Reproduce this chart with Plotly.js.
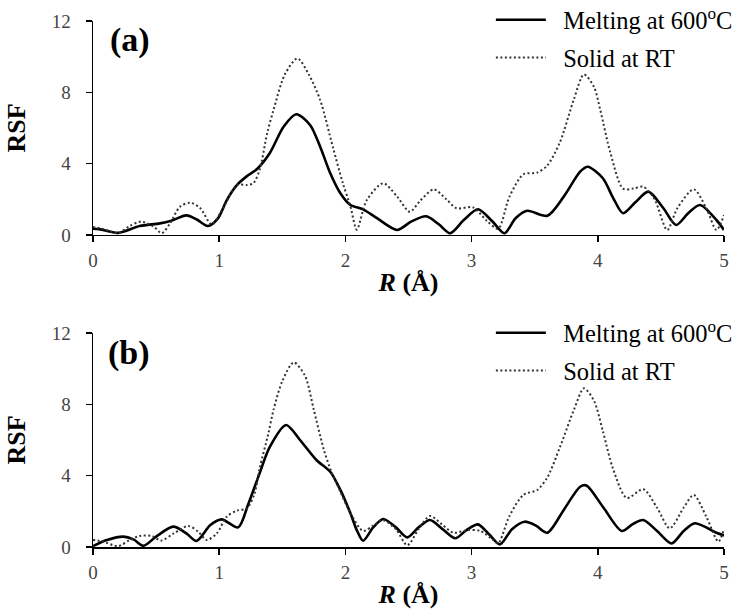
<!DOCTYPE html>
<html>
<head>
<meta charset="utf-8">
<script src="https://cdn.plot.ly/plotly-3.0.1.min.js"></script>
<style>html,body{margin:0;padding:0;background:#fff;}#chart{width:737px;height:610px;}</style>
</head>
<body>
<div id="chart"></div>
<script>
// Panel (a)
const meltA_x = [0, 0.05, 0.2, 0.37, 0.53, 0.62, 0.74, 0.82, 0.91, 0.99, 1.06, 1.14, 1.22, 1.30, 1.40, 1.51, 1.61, 1.72, 1.80, 1.88, 1.96, 2.04, 2.14, 2.25, 2.41, 2.52, 2.64, 2.74, 2.83, 2.94, 3.05, 3.16, 3.26, 3.35, 3.44, 3.60, 3.73, 3.86, 3.92, 4.04, 4.12, 4.20, 4.30, 4.40, 4.52, 4.62, 4.72, 4.81, 4.94, 5.0];
const meltA_y = [0.35, 0.33, 0.12, 0.5, 0.65, 0.8, 1.1, 0.88, 0.5, 0.93, 1.96, 2.8, 3.3, 3.7, 4.58, 6.07, 6.77, 6.17, 4.95, 3.46, 2.34, 1.68, 1.44, 0.94, 0.28, 0.75, 1.05, 0.6, 0.1, 0.85, 1.44, 0.8, 0.1, 0.95, 1.36, 1.08, 2.15, 3.55, 3.83, 3.18, 2.1, 1.22, 1.85, 2.43, 1.5, 0.56, 1.25, 1.68, 0.84, 0.28];
const solidA_x = [0, 0.07, 0.14, 0.2, 0.29, 0.38, 0.48, 0.545, 0.61, 0.69, 0.77, 0.85, 0.94, 1.03, 1.14, 1.22, 1.27, 1.32, 1.38, 1.43, 1.52, 1.62, 1.71, 1.80, 1.90, 1.98, 2.04, 2.09, 2.17, 2.30, 2.41, 2.51, 2.59, 2.70, 2.80, 2.88, 3.01, 3.12, 3.21, 3.30, 3.41, 3.52, 3.60, 3.70, 3.81, 3.89, 3.97, 4.02, 4.10, 4.20, 4.28, 4.36, 4.45, 4.55, 4.63, 4.76, 4.86, 4.94, 5.0];
const solidA_y = [0.45, 0.35, 0.2, 0.1, 0.5, 0.75, 0.47, 0.1, 0.65, 1.59, 1.81, 1.5, 0.6, 1.5, 2.8, 2.8, 2.9, 3.64, 5.7, 7.0, 9.0, 9.9, 9.0, 7.57, 4.95, 2.9, 1.6, 0.3, 1.96, 2.9, 2.15, 1.3, 1.9, 2.56, 2.0, 1.5, 1.55, 0.8, 0.35, 2.15, 3.4, 3.5, 3.9, 5.2, 7.6, 9.0, 8.3, 7.0, 4.6, 2.6, 2.6, 2.71, 2.0, 0.28, 1.5, 2.56, 1.5, 0.28, 1.12];
// Panel (b)
const meltB_x = [0, 0.11, 0.24, 0.32, 0.40, 0.50, 0.636, 0.74, 0.82, 0.93, 1.02, 1.15, 1.23, 1.32, 1.40, 1.53, 1.64, 1.77, 1.88, 1.96, 2.04, 2.09, 2.14, 2.22, 2.30, 2.40, 2.49, 2.58, 2.67, 2.77, 2.87, 2.96, 3.05, 3.14, 3.225, 3.32, 3.42, 3.51, 3.60, 3.73, 3.86, 3.91, 4.04, 4.19, 4.28, 4.36, 4.47, 4.585, 4.68, 4.77, 4.94, 5.0];
const meltB_y = [0.05, 0.39, 0.58, 0.43, 0.07, 0.58, 1.14, 0.76, 0.34, 1.23, 1.55, 1.1, 2.4, 4.13, 5.6, 6.84, 6.0, 4.88, 4.22, 3.2, 1.89, 0.95, 0.35, 1.1, 1.57, 1.1, 0.54, 1.1, 1.51, 1.0, 0.49, 0.95, 1.27, 0.7, 0.15, 1.0, 1.42, 1.2, 0.8, 2.08, 3.38, 3.45, 2.26, 0.9, 1.3, 1.51, 0.9, 0.2, 0.9, 1.33, 0.8, 0.65];
const solidB_x = [0, 0.08, 0.2, 0.29, 0.37, 0.465, 0.54, 0.64, 0.755, 0.835, 0.90, 0.98, 1.06, 1.14, 1.22, 1.28, 1.32, 1.39, 1.43, 1.50, 1.59, 1.68, 1.75, 1.83, 1.89, 1.96, 2.04, 2.14, 2.22, 2.30, 2.40, 2.49, 2.58, 2.67, 2.76, 2.855, 2.97, 3.07, 3.17, 3.21, 3.30, 3.41, 3.52, 3.60, 3.70, 3.81, 3.89, 3.97, 4.04, 4.12, 4.23, 4.36, 4.47, 4.57, 4.68, 4.76, 4.86, 4.955, 5.0];
const solidB_y = [0.4, 0.3, 0.05, 0.39, 0.62, 0.62, 0.36, 0.76, 1.18, 0.85, 0.39, 0.76, 1.7, 2.04, 2.17, 3.0, 4.41, 6.38, 7.68, 9.3, 10.35, 9.6, 7.68, 5.44, 4.2, 3.1, 1.9, 0.9, 1.2, 1.5, 1.0, 0.1, 1.0, 1.74, 1.3, 0.8, 0.95, 0.9, 0.4, 0.2, 1.74, 2.92, 3.2, 3.9, 5.6, 7.68, 8.9, 8.2, 6.5, 4.4, 2.75, 3.24, 2.2, 1.05, 2.2, 2.92, 1.7, 0.3, 1.0];

const seriesNames = ['Melting at 600<sup>o</sup>C', 'Solid at RT'];
const panelLabels = ['(a)', '(b)'];
const xTitle = '<i>R</i> (Å)';
const yTitle = 'RSF';

const serif = 'Liberation Serif, Times New Roman, serif';
const pad = '\u00a0\u00a0';
const solidLine = {color: '#000', width: 2.6, shape: 'spline', smoothing: 0.8};
const dotLine = {color: '#333', width: 2, dash: '2px,2.5px', shape: 'spline', smoothing: 0.8};

const traces = [
  {x: meltA_x, y: meltA_y, xaxis: 'x', yaxis: 'y', name: pad + seriesNames[0], mode: 'lines', line: solidLine, legend: 'legend', legendgroup: 'a1'},
  {x: solidA_x, y: solidA_y, xaxis: 'x', yaxis: 'y', name: pad + seriesNames[1], mode: 'lines', line: dotLine, legend: 'legend', legendgroup: 'a2'},
  {x: meltB_x, y: meltB_y, xaxis: 'x2', yaxis: 'y2', name: pad + seriesNames[0], mode: 'lines', line: solidLine, legend: 'legend2', legendgroup: 'b1'},
  {x: solidB_x, y: solidB_y, xaxis: 'x2', yaxis: 'y2', name: pad + seriesNames[1], mode: 'lines', line: dotLine, legend: 'legend2', legendgroup: 'b2'}
];

function xAx(anchor) {
  return {
    anchor: anchor, domain: [0, 1], range: [0, 5], dtick: 1, tick0: 0,
    showline: true, linecolor: '#000', linewidth: 1.5,
    ticks: 'outside', ticklen: 6, tickwidth: 1.5, tickcolor: '#000',
    showgrid: false, zeroline: false,
    tickfont: {family: serif, size: 19, color: '#444'},
    ticklabelstandoff: 2,
    title: {text: xTitle, font: {family: serif, size: 26, color: '#000', weight: 'bold'}, standoff: 2}
  };
}
function yAx(anchor, domain) {
  return {
    anchor: anchor, domain: domain, range: [0, 12], dtick: 4, tick0: 0,
    showline: true, linecolor: '#000', linewidth: 1.5,
    ticks: 'outside', ticklen: 6, tickwidth: 1.5, tickcolor: '#000',
    showgrid: false, zeroline: false,
    tickfont: {family: serif, size: 19, color: '#444'},
    ticklabelstandoff: 11,
    title: {text: yTitle, font: {family: serif, size: 26, color: '#000', weight: 'bold'}, standoff: 18}
  };
}
function leg(y) {
  return {x: 1.022, xanchor: 'right', y: y, yanchor: 'top', bgcolor: 'rgba(0,0,0,0)',
    font: {family: serif, size: 24.5, color: '#000'}, tracegroupgap: 3, itemwidth: 50};
}

const layout = {
  width: 737, height: 610,
  margin: {l: 93, r: 13, t: 21, b: 63, autoexpand: false},
  paper_bgcolor: '#fff', plot_bgcolor: '#fff',
  showlegend: true,
  xaxis: xAx('y'), yaxis: yAx('x', [0.5932, 1]),
  xaxis2: xAx('y2'), yaxis2: yAx('x2', [0, 0.4068]),
  legend: leg(1.045),
  legend2: leg(0.45),
  annotations: [
    {xref: 'paper', yref: 'paper', x: 0.024, y: 0.963, xanchor: 'left', yanchor: 'middle', text: '<b>' + panelLabels[0] + '</b>', showarrow: false, font: {family: serif, size: 34, color: '#000'}},
    {xref: 'paper', yref: 'paper', x: 0.021, y: 0.369, xanchor: 'left', yanchor: 'middle', text: '<b>' + panelLabels[1] + '</b>', showarrow: false, font: {family: serif, size: 34, color: '#000'}}
  ]
};

Plotly.newPlot('chart', traces, layout, {displayModeBar: false, staticPlot: true});
</script>
</body>
</html>
